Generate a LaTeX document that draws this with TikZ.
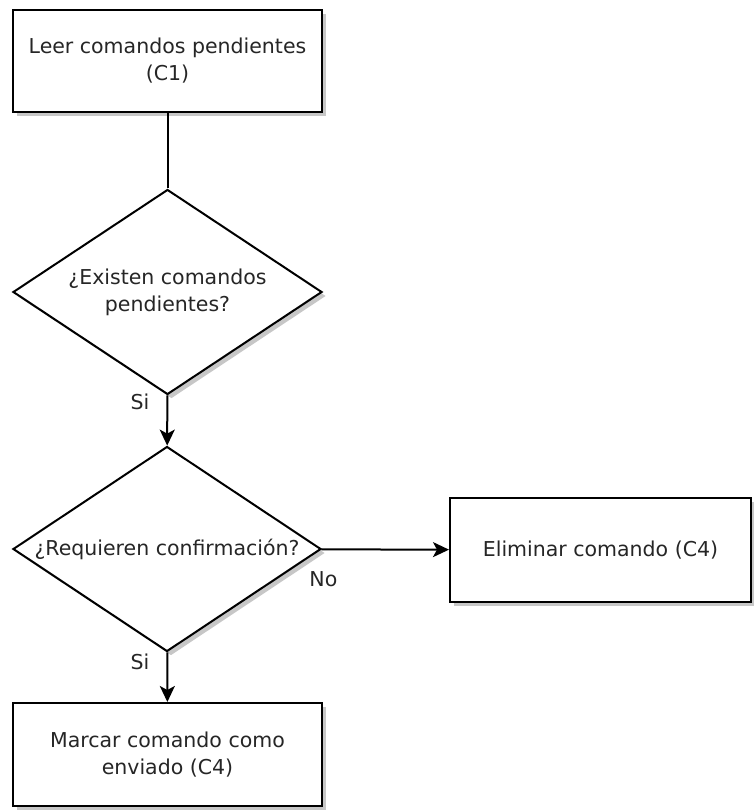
\documentclass[tikz,border=0pt]{standalone}
\usepackage{fontspec}
\setmainfont{DejaVu Sans}
\usepackage{tikz}
\usetikzlibrary{shapes.geometric, arrows.meta, shadows}

\begin{document}
\begin{tikzpicture}[x=1pt, y=-1pt, line width=2pt,
  every node/.style={font=\fontsize{20.5}{27}\selectfont, text=black!85, align=center, inner sep=0pt},
  box/.style={rectangle, draw, fill=white, drop shadow={shadow xshift=4pt, shadow yshift=-4pt, fill=black!22, opacity=1}},
  question/.style={diamond, aspect=2, draw, fill=white, drop shadow={shadow xshift=4pt, shadow yshift=-4pt, fill=black!22, opacity=1}},
  flow/.style={-{Stealth[length=16pt, width=15pt, inset=4pt]}}]
\useasboundingbox (0,0) rectangle (753,811);
% Nodes from top to bottom
\node[box, minimum width=309pt, minimum height=102pt] (leer) at (167.5,61) {Leer comandos pendientes\\(C1)}; % Top
\node[question, minimum width=309pt, minimum height=205pt] (existen) at (167.5,292) {¿Existen comandos\\pendientes?};
\node[question, minimum width=308pt, minimum height=205pt] (requieren) at (167,549) {¿Requieren confirmación?};
\node[box, minimum width=301pt, minimum height=104pt] (eliminar) at (600.5,550) {Eliminar comando (C4)}; % Right
\node[box, minimum width=309pt, minimum height=103pt] (marcar) at (167.5,754.5) {Marcar comando como\\enviado (C4)}; % Bottom
% Edges following the flow
\draw (leer) -- (existen);
\draw[flow] (existen) -- node[pos=0, anchor=north east, xshift=-17pt, yshift=2pt] (si1) {Si} (requieren);
\draw[flow] (requieren) -- node[pos=0, anchor=north west, xshift=-13pt, yshift=-21pt] (no) {No} (eliminar);
\draw[flow] (requieren) -- node[pos=0, anchor=north east, xshift=-17pt, yshift=-1pt] (si2) {Si} (marcar);
\end{tikzpicture}
\end{document}
